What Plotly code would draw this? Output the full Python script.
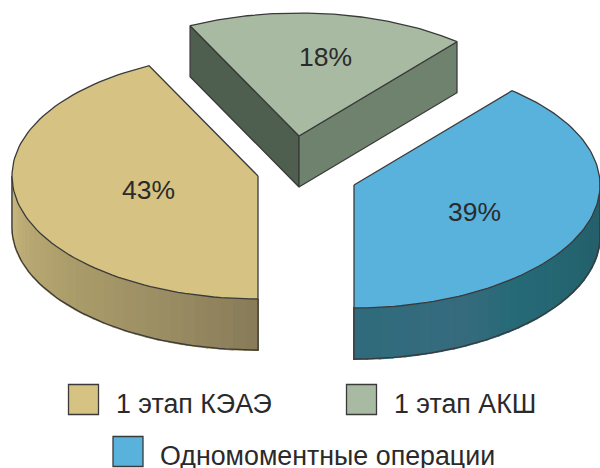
import numpy as np
import plotly.graph_objects as go

# --- data ---
categories = ["1 этап КЭАЭ", "1 этап АКШ", "Одномоментные операции"]
values = [42.7, 18.4, 38.9]
value_labels = ["%.0f%%" % v for v in values]

# --- style / layout ---
top_colors = ["#D6C283", "#A8BBA2", "#59B2DB"]
centers = [(258, 176), (299, 136), (354, 185)]
label_pos = [(148, 190), (325, 57), (474, 212)]
legend_boxes = [(83.5, 399.5), (361.5, 399.5), (128, 451.5)]
legend_text_x = [114, 391.5, 158]
RX, RY, DEPTH = 246, 123, 51
START = 90.0
EDGE = "#3A3A3A"
TEXT = "#2B2A2B"
FONT = "Liberation Sans"
side_stops = {
    0: [(180, "#CBB97F"), (160, "#B9A974"), (135, "#A99B69"), (110, "#998C63"), (90, "#887B58")],
    2: [(90, "#2F6B7C"), (65, "#376C7F"), (50, "#276A78"), (25, "#24646F"), (0, "#255E6A")],
}
GREEN_LEFT = "#4F5F4F"
GREEN_RIGHT = "#6E826E"


def hex_rgb(h):
    return np.array([int(h[i:i + 2], 16) for i in (1, 3, 5)], float)


def shade(stops, t):
    ts = [s[0] for s in stops]
    cols = np.array([hex_rgb(s[1]) for s in stops])
    order = np.argsort(ts)
    rgb = [np.interp(t, np.array(ts)[order], cols[order, k]) for k in range(3)]
    return "rgb(%d,%d,%d)" % tuple(rgb)


def arc(c, t0, t1, n=90, dz=0):
    t = np.radians(np.linspace(t0, t1, n))
    return c[0] + RX * np.cos(t), c[1] + RY * np.sin(t) + dz


fig = go.Figure()


def poly(x, y, fill, line=None, width=1.3):
    fig.add_trace(go.Scatter(
        x=list(x), y=list(y), mode="lines", fill="toself", fillcolor=fill,
        line=dict(color=line or fill, width=width), hoverinfo="skip", showlegend=False))


def path(x, y):
    fig.add_trace(go.Scatter(
        x=list(x), y=list(y), mode="lines", line=dict(color=EDGE, width=1.3),
        hoverinfo="skip", showlegend=False))


# slice angles come from the values
angles = []
a = START
for v in values:
    angles.append((a, a + v * 3.6))
    a += v * 3.6

for i in [1, 0, 2]:
    c = centers[i]
    t0, t1 = angles[i]
    if i == 1:
        # the two cut faces are what shows of this slice
        x0, y0 = arc(c, t0, t0, 1)
        x1, y1 = arc(c, t1, t1, 1)
        poly([x0[0], c[0], c[0], x0[0], x0[0]],
             [y0[0], c[1], c[1] + DEPTH, y0[0] + DEPTH, y0[0]], GREEN_LEFT, EDGE)
        poly([c[0], x1[0], x1[0], c[0], c[0]],
             [c[1], y1[0], y1[0] + DEPTH, c[1] + DEPTH, c[1]], GREEN_RIGHT, EDGE)
    else:
        # visible rim: from the front point (90°) to the side extreme
        lo, hi = (90, 180) if i == 0 else (0, 90)
        edges = np.linspace(lo, hi, 31)
        for e0, e1 in zip(edges[:-1], edges[1:]):
            xa, ya = arc(c, e0, e1, 4)
            xb, yb = arc(c, e1, e0, 4, DEPTH)
            poly(np.r_[xa, xb, xa[0]], np.r_[ya, yb, ya[0]],
                 shade(side_stops[i], (e0 + e1) / 2), width=2)
        xb, yb = arc(c, lo, hi, 60, DEPTH)
        xs, ys = arc(c, lo, hi, 60)
        if i == 0:
            path(np.r_[c[0], xb, xs[-1]], np.r_[c[1] + RY, yb, ys[-1]])
        else:
            path(np.r_[xs[0], xb, c[0]], np.r_[ys[0], yb, c[1] + RY])
    # top face
    x, y = arc(c, t0, t1)
    poly(np.r_[c[0], x, c[0]], np.r_[c[1], y, c[1]], top_colors[i], EDGE)

# legend boxes
fig.add_trace(go.Scatter(
    x=[b[0] for b in legend_boxes], y=[b[1] for b in legend_boxes], mode="markers",
    marker=dict(symbol="square", size=30, color=top_colors, line=dict(color=EDGE, width=1.3)),
    hoverinfo="skip", showlegend=False))

ann = []
for txt, p in zip(value_labels, label_pos):
    ann.append(dict(x=p[0], y=p[1], text=txt, showarrow=False, xanchor="center", yanchor="middle",
                    font=dict(family=FONT, size=26.5, color=TEXT)))
for txt, b, tx in zip(categories, legend_boxes, legend_text_x):
    ann.append(dict(x=tx, y=b[1] + 4, text=txt, showarrow=False, xanchor="left", yanchor="middle",
                    font=dict(family=FONT, size=26.8, color=TEXT)))

fig.update_layout(
    width=600, height=468, margin=dict(l=0, r=0, t=0, b=0),
    paper_bgcolor="white", plot_bgcolor="white", showlegend=False, annotations=ann,
    xaxis=dict(range=[0, 600], visible=False, fixedrange=True),
    yaxis=dict(range=[468, 0], visible=False, fixedrange=True),
)
fig.write_html("out.html", config={"displayModeBar": False},
               post_script="document.body.style.margin='0';document.documentElement.style.overflow='hidden';")
